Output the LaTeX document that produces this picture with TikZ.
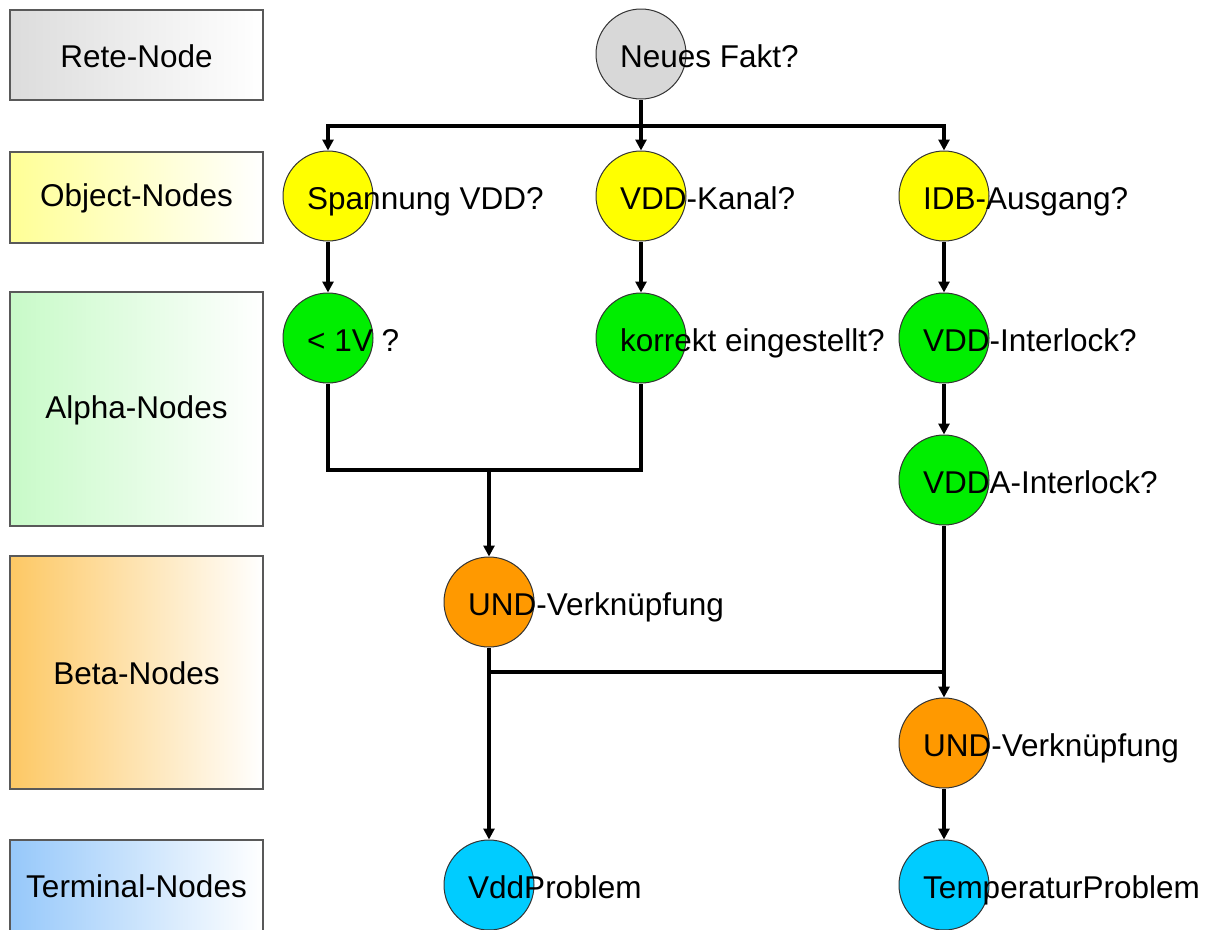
\documentclass[tikz,border=0pt]{standalone}
\usepackage{fontspec}
\setmainfont{Liberation Sans}
\usepackage{tikz}
\usetikzlibrary{arrows.meta, positioning, calc}

\definecolor{factgrey}{RGB}{216,216,216}
\definecolor{objyellow}{RGB}{255,255,0}
\definecolor{alphagreen}{RGB}{0,238,0}
\definecolor{betaorange}{RGB}{255,153,0}
\definecolor{termblue}{RGB}{0,204,255}
\definecolor{lanegrey}{RGB}{220,220,220}
\definecolor{laneyellow}{RGB}{255,255,150}
\definecolor{lanegreen}{RGB}{200,250,200}
\definecolor{laneorange}{RGB}{253,200,100}
\definecolor{laneblue}{RGB}{150,200,250}

\begin{document}
\begin{tikzpicture}[x=1pt, y=-1pt, >={Triangle[length=11pt,width=11pt]},
    font=\fontsize{31.5}{36}\selectfont,
    lane/.style={draw=black!65, line width=1.5pt, left color=#1, middle color=#1!88, right color=white},
    rete/.style={draw=black!80, line width=1pt, circle, minimum size=90pt, inner sep=0pt, fill=#1},
    tag/.style={anchor=base west, inner sep=0pt},
    line/.style={line width=4pt},
    flow/.style={line width=4pt, ->}]
  \clip (0,0) rectangle (1218,929);
  \useasboundingbox (0,0) rectangle (1218,929);

  % Lane boxes on the left
  \foreach \nm/\col/\top/\bot/\txt in {ln1/lanegrey/10/100/Rete-Node,
      ln2/laneyellow/152/243/Object-Nodes, ln3/lanegreen/292/526/Alpha-Nodes,
      ln4/laneorange/556/789/Beta-Nodes, ln5/laneblue/840/960/Terminal-Nodes} {
    \draw[lane=\col] (10,\top) rectangle (263,\bot);
  }
  \node (t1) at (136.5,56) {Rete-Node};
  \node (t2) at (136.5,198) {Object-Nodes};
  \node (t3) at (136.5,410) {Alpha-Nodes};
  \node (t4) at (136.5,673) {Beta-Nodes};
  \node (t5) at (136.5,886) {Terminal-Nodes};

  % Rete network
  \node[rete=factgrey] (nf) at (641,54) {};
  \node[rete=objyellow] (sp) at (328,196) {};
  \node[rete=objyellow] (vk) at (641,196) {};
  \node[rete=objyellow] (ia) at (944,196) {};
  \node[rete=alphagreen] (lt) at (328,338) {};
  \node[rete=alphagreen] (ke) at (641,338) {};
  \node[rete=alphagreen] (vi) at (944,338) {};
  \node[rete=alphagreen] (va) at (944,480) {};
  \node[rete=betaorange] (und1) at (489,602) {};
  \node[rete=betaorange] (und2) at (944,743) {};
  \node[rete=termblue] (vp) at (489,885) {};
  \node[rete=termblue] (tp) at (944,885) {};

  \coordinate (bus) at (641,126);
  \coordinate (j1) at (489,470);
  \coordinate (j2) at (489,672);
  \coordinate (j3) at (944,672);

  % Connectors
  \draw[flow] (nf) -- (vk);
  \draw[flow] (bus) -| (sp);
  \draw[flow] (bus) -| (ia);
  \draw[flow] (sp) -- (lt);
  \draw[flow] (vk) -- (ke);
  \draw[flow] (ia) -- (vi);
  \draw[flow] (vi) -- (va);
  \draw[line] (lt) |- (j1) -| (ke);
  \draw[flow] (j1) -- (und1);
  \draw[flow] (und1) -- (vp);
  \draw[line] (j2) -- (j3);
  \draw[flow] (va) -- (und2);
  \draw[flow] (und2) -- (tp);

  % Labels
  \node[tag] (lnf) at ([xshift=-21pt,yshift=-13pt]nf.center) {Neues Fakt?};
  \node[tag] (lsp) at ([xshift=-21pt,yshift=-13pt]sp.center) {Spannung VDD?};
  \node[tag] (lvk) at ([xshift=-21pt,yshift=-13pt]vk.center) {VDD-Kanal?};
  \node[tag] (lia) at ([xshift=-21pt,yshift=-13pt]ia.center) {IDB-Ausgang?};
  \node[tag] (llt) at ([xshift=-21pt,yshift=-13pt]lt.center) {< 1V ?};
  \node[tag] (lke) at ([xshift=-21pt,yshift=-13pt]ke.center) {korrekt eingestellt?};
  \node[tag] (lvi) at ([xshift=-21pt,yshift=-13pt]vi.center) {VDD-Interlock?};
  \node[tag] (lva) at ([xshift=-21pt,yshift=-13pt]va.center) {VDDA-Interlock?};
  \node[tag] (lu1) at ([xshift=-21pt,yshift=-13pt]und1.center) {UND-Verknüpfung};
  \node[tag] (lu2) at ([xshift=-21pt,yshift=-13pt]und2.center) {UND-Verknüpfung};
  \node[tag] (lvp) at ([xshift=-21pt,yshift=-13pt]vp.center) {VddProblem};
  \node[tag] (ltp) at ([xshift=-21pt,yshift=-13pt]tp.center) {TemperaturProblem};
\end{tikzpicture}
\end{document}
